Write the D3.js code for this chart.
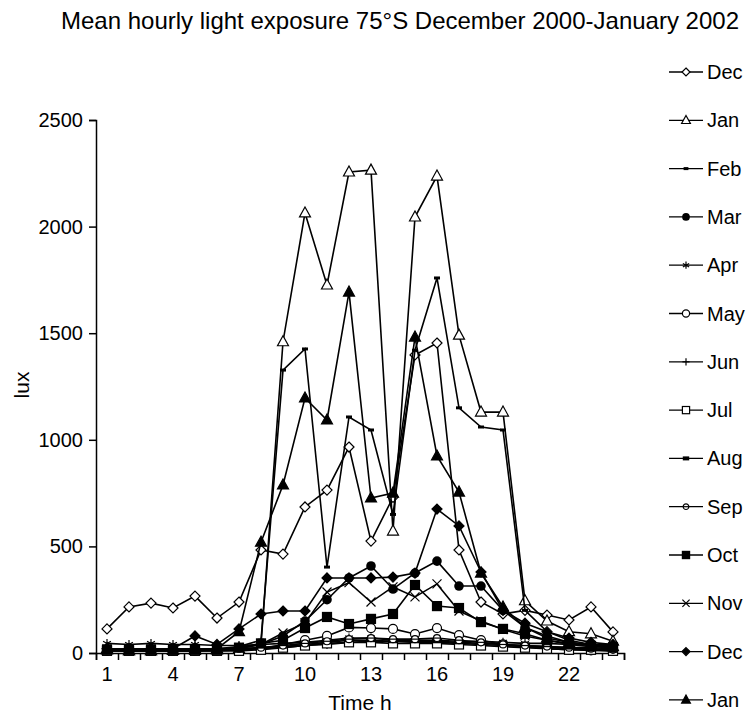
<!DOCTYPE html>
<html>
<head>
<meta charset="utf-8">
<script src="https://cdn.jsdelivr.net/npm/d3@7"></script>
<style>
body { margin: 0; background: #fff; }
text { font-family: Arial, "Liberation Sans", sans-serif; fill: #000; }
</style>
</head>
<body>
<script>
//Hours of the day and chart labels
const hours = d3.range(1, 25);
const xTickLabels = [1, 4, 7, 10, 13, 16, 19, 22];
const yTicks = [0, 500, 1000, 1500, 2000, 2500];
const months = ["Dec", "Jan", "Feb", "Mar", "Apr", "May", "Jun", "Jul", "Aug", "Sep", "Oct", "Nov", "Dec", "Jan"];
const markerTypes = ["diamondOpen", "triangleOpen", "dashThin", "circleFilled", "asterisk", "circleOpen", "plus", "squareOpen", "dashThick", "circleSmall", "squareFilled", "cross", "diamondFilled", "triangleFilled"];

//Mean lux per hour (1..24), one array per month
const dec2000 = [113, 216, 234, 211, 267, 164, 239, 483, 464, 685, 764, 966, 525, 730, 1398, 1454, 483, 239, 183, 200, 178, 155, 216, 99];
const jan2001 = [15, 10, 10, 12, 12, 15, 20, 40, 1460, 2064, 1726, 2256, 2265, 572, 2045, 2237, 1491, 1130, 1130, 245, 150, 100, 90, 55];
const feb2001 = [20, 15, 15, 15, 15, 20, 30, 60, 1327, 1426, 403, 1107, 1046, 650, 1420, 1759, 1150, 1060, 1046, 200, 100, 60, 40, 30];
const mar2001 = [10, 10, 10, 10, 10, 15, 25, 40, 80, 150, 250, 352, 408, 300, 375, 431, 314, 314, 200, 120, 80, 50, 35, 25];
const apr2001 = [45, 40, 45, 40, 40, 35, 35, 40, 45, 50, 60, 70, 70, 60, 60, 60, 55, 55, 50, 45, 45, 40, 40, 40];
const may2001 = [10, 10, 10, 10, 10, 10, 15, 20, 40, 60, 80, 120, 117, 113, 89, 117, 84, 60, 40, 30, 20, 15, 12, 10];
const jun2001 = [15, 15, 15, 15, 15, 15, 15, 20, 25, 35, 40, 50, 55, 55, 50, 50, 45, 40, 35, 30, 25, 20, 20, 15];
const jul2001 = [10, 10, 10, 10, 10, 10, 10, 15, 25, 35, 45, 50, 50, 45, 45, 45, 40, 35, 30, 25, 20, 15, 15, 10];
const aug2001 = [20, 20, 20, 20, 20, 20, 20, 25, 30, 40, 50, 60, 60, 55, 55, 55, 50, 45, 40, 35, 30, 25, 25, 20];
const sep2001 = [15, 15, 15, 15, 15, 15, 20, 25, 35, 45, 55, 65, 70, 65, 65, 70, 60, 50, 40, 35, 30, 25, 20, 15];
const oct2001 = [15, 15, 15, 15, 15, 15, 25, 45, 60, 117, 169, 136, 160, 183, 319, 220, 211, 145, 113, 90, 60, 40, 30, 25];
const nov2001 = [20, 20, 20, 20, 20, 20, 25, 40, 94, 141, 286, 330, 239, 310, 263, 324, 197, 150, 110, 80, 60, 45, 35, 30];
const dec2001 = [20, 20, 20, 20, 80, 40, 113, 183, 197, 197, 352, 352, 352, 356, 375, 675, 596, 380, 200, 140, 100, 70, 50, 40];
const jan2002 = [20, 15, 15, 15, 20, 20, 100, 520, 788, 1196, 1093, 1693, 727, 750, 1482, 924, 755, 375, 216, 120, 70, 50, 40, 30];

const seriesValues = [dec2000, jan2001, feb2001, mar2001, apr2001, may2001, jun2001, jul2001, aug2001, sep2001, oct2001, nov2001, dec2001, jan2002];

window.onload = drawChart();

function drawChart(){

	let width = 750;
	let height = 718;

	let svg = d3.select("body")
		.append("svg")
		.attr("width", width)
		.attr("height", height);

	//Plot area
	let x = d3.scaleLinear().domain([0.5, 24.5]).range([96, 624]);
	let y = d3.scaleLinear().domain([0, 2500]).range([653, 120]);

	//Title
	svg.append("text")
		.attr("x", 400)
		.attr("y", 29)
		.attr("text-anchor", "middle")
		.style("font-size", "24px")
		.text("Mean hourly light exposure 75°S December 2000-January 2002");

	//Y axis
	let yAxis = svg.append("g")
		.attr("transform", "translate(96,0)")
		.call(d3.axisLeft(y).tickValues(yTicks).tickSize(7).tickPadding(6).tickFormat(d3.format("d")));
	yAxis.selectAll("text").style("font-size", "20px");

	//X axis, ticks between hours, labels every 3 hours
	let xAxis = svg.append("g")
		.attr("transform", "translate(0,653)")
		.call(d3.axisBottom(x).tickValues(d3.range(0.5, 25, 1)).tickSize(7).tickFormat(""));
	svg.append("g")
		.selectAll("text")
		.data(xTickLabels)
		.enter()
		.append("text")
		.attr("x", d => x(d))
		.attr("y", 681)
		.attr("text-anchor", "middle")
		.style("font-size", "20px")
		.text(d => d);

	svg.selectAll(".domain, .tick line").attr("stroke", "#000").attr("stroke-width", 1.5);

	//Axis titles
	svg.append("text")
		.attr("transform", "translate(29,385) rotate(-90)")
		.attr("text-anchor", "middle")
		.style("font-size", "21px")
		.text("lux");
	svg.append("text")
		.attr("x", 360)
		.attr("y", 710)
		.attr("text-anchor", "middle")
		.style("font-size", "21px")
		.text("Time h");

	//Lines and markers
	let line = d3.line()
		.x((d, i) => x(hours[i]))
		.y(d => y(d));

	seriesValues.forEach(function(vals, s){
		let g = svg.append("g").attr("class", "series s" + s);
		g.append("path")
			.datum(vals)
			.attr("d", line)
			.attr("fill", "none")
			.attr("stroke", "#000")
			.attr("stroke-width", 1.6);
		g.selectAll(".pt")
			.data(vals)
			.enter()
			.append("g")
			.attr("class", "pt")
			.attr("transform", (d, i) => "translate(" + x(hours[i]) + "," + y(d) + ")")
			.each(function(){ drawMarker(d3.select(this), markerTypes[s], 1); });
	});

	//Legend
	let legend = svg.append("g").attr("class", "legend");
	months.forEach(function(m, i){
		let ly = 72 + i * 48.3;
		let item = legend.append("g").attr("transform", "translate(0," + ly + ")");
		item.append("line")
			.attr("x1", 669).attr("x2", 703)
			.attr("y1", 0).attr("y2", 0)
			.attr("stroke", "#000")
			.attr("stroke-width", 1.3);
		drawMarker(item.append("g").attr("transform", "translate(686,0)"), markerTypes[i], 0.8);
		item.append("text")
			.attr("x", 707)
			.attr("y", 7)
			.style("font-size", "20px")
			.text(m);
	});
}

function drawMarker(g, type, k){
	let sw = 1.2;
	switch(type){
		case "diamondOpen":
		case "diamondFilled":
			g.append("path")
				.attr("d", "M0," + (-5 * k) + "L" + (5 * k) + ",0L0," + (5 * k) + "L" + (-5 * k) + ",0Z")
				.attr("fill", type == "diamondOpen" ? "#fff" : "#000")
				.attr("stroke", "#000").attr("stroke-width", sw);
			break;
		case "triangleOpen":
		case "triangleFilled":
			g.append("path")
				.attr("d", "M0," + (-6 * k) + "L" + (5.5 * k) + "," + (4 * k) + "L" + (-5.5 * k) + "," + (4 * k) + "Z")
				.attr("fill", type == "triangleOpen" ? "#fff" : "#000")
				.attr("stroke", "#000").attr("stroke-width", sw);
			break;
		case "circleFilled":
			g.append("circle").attr("r", 4.8 * k).attr("fill", "#000");
			break;
		case "circleOpen":
			g.append("circle").attr("r", 4.5 * k).attr("fill", "#fff").attr("stroke", "#000").attr("stroke-width", sw);
			break;
		case "circleSmall":
			g.append("circle").attr("r", 3.5 * k).attr("fill", "#fff").attr("stroke", "#000").attr("stroke-width", sw);
			g.append("line").attr("x1", -3.5 * k).attr("x2", 3.5 * k).attr("stroke", "#000").attr("stroke-width", sw);
			break;
		case "squareOpen":
		case "squareFilled":
			g.append("rect")
				.attr("x", -4.5 * k).attr("y", -4.5 * k)
				.attr("width", 9 * k).attr("height", 9 * k)
				.attr("fill", type == "squareOpen" ? "#fff" : "#000")
				.attr("stroke", "#000").attr("stroke-width", sw);
			break;
		case "dashThin":
			g.append("rect").attr("x", -3 * k).attr("y", -1.5).attr("width", 6 * k).attr("height", 3).attr("fill", "#000");
			break;
		case "dashThick":
			g.append("rect").attr("x", -4 * k).attr("y", -2).attr("width", 8 * k).attr("height", 4).attr("fill", "#000");
			break;
		case "plus":
			g.append("line").attr("y1", -4.5 * k).attr("y2", 4.5 * k).attr("stroke", "#000").attr("stroke-width", sw);
			g.append("line").attr("x1", -4.5 * k).attr("x2", 4.5 * k).attr("stroke", "#000").attr("stroke-width", sw);
			break;
		case "asterisk":
			let a = 4.5 * k;
			g.append("path")
				.attr("d", "M0," + (-a) + "V" + a + "M" + (-a * 0.87) + "," + (-a / 2) + "L" + (a * 0.87) + "," + (a / 2) + "M" + (-a * 0.87) + "," + (a / 2) + "L" + (a * 0.87) + "," + (-a / 2))
				.attr("stroke", "#000").attr("stroke-width", sw);
			break;
		case "cross":
			let c = 4.5 * k;
			g.append("path")
				.attr("d", "M" + (-c) + "," + (-c) + "L" + c + "," + c + "M" + (-c) + "," + c + "L" + c + "," + (-c))
				.attr("stroke", "#000").attr("stroke-width", sw);
			break;
	}
}
</script>
</body>
</html>
